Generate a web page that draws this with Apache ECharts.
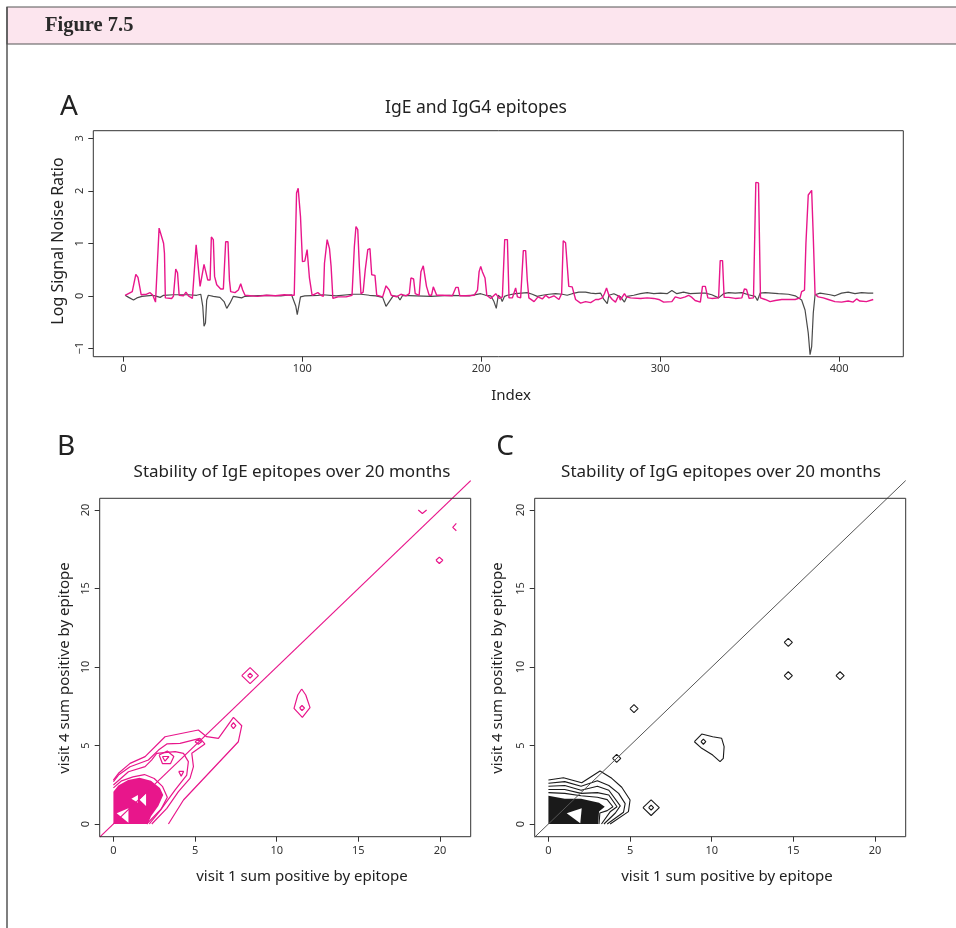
<!DOCTYPE html>
<html><head><meta charset="utf-8">
<script src="https://cdn.jsdelivr.net/npm/echarts@6/dist/echarts.min.js"></script>
<style>html,body{margin:0;padding:0;background:#fff}#c{width:956px;height:928px}</style>
</head><body><div id="c"></div>
<script>
// ---------- Panel A data: [index, log signal/noise] ----------
const igeSignal = [[1,0.01],[5,0.08],[7,0.41],[8.2,0.35],[9.1,0.34],[10,0.02],[13,0.03],[15,0.06],[16.5,0.01],[18,-0.12],[18.8,-0.11],[20,1.29],[21,1.29],[22.5,1.0],[23,0.81],[23.5,-0.04],[27,-0.05],[28,-0.01],[29.3,0.51],[30.3,0.44],[31.2,0.01],[33.6,0],[35,0.07],[36.4,0],[38.6,-0.05],[39.7,-0.04],[40.7,0.97],[41.8,0.97],[42.9,0.18],[43.8,0.18],[45.1,0.6],[46,0.6],[47.2,0.3],[48.5,0.3],[49.2,1.12],[50.3,1.07],[51,0.37],[52.2,0.21],[54.4,0.13],[55.9,0.13],[57.2,1.03],[58.5,1.03],[59.3,0.3],[60,0.08],[62.4,0.06],[64.3,0.11],[65.6,0.23],[66.7,0.11],[68,0.01],[75,-0.01],[80,0.01],[85,0],[90,0.02],[93,0.01],[95.5,0.01],[96.8,1.96],[97.7,2.05],[99,1.51],[100.1,0.65],[101.4,0.66],[102.7,0.88],[104,0.34],[105.5,0.01],[106.5,-0.01],[108.7,0.06],[110.5,0.01],[111.8,-0.01],[112.4,0.62],[113.9,1.07],[115.2,0.9],[116.1,0.56],[117.1,-0.05],[120,-0.02],[124.5,-0.02],[127.8,0.01],[129.1,0.94],[130,1.32],[131,1.26],[131.9,0.56],[132.8,0.04],[134,0.07],[135.2,0.5],[136.6,0.88],[137.8,0.9],[138.8,0.4],[140.6,0.39],[141.6,0.01],[144.9,-0.02],[146.8,0.19],[148.6,0.11],[149.7,0.01],[152.7,-0.02],[155.1,0.03],[157.9,0],[159.8,0.04],[160.7,0.34],[162.2,0.32],[163.1,0.04],[165.3,0.01],[166.3,0.46],[167.6,0.57],[168.7,0.57],[169.4,0.18],[170.9,0.01],[172.2,0.01],[173.2,0.17],[174.3,0.16],[175.1,0.01],[178.4,0.01],[183.9,0],[185.8,0.16],[187.1,0.16],[188,0],[191.4,0],[196,0.01],[197.9,0.11],[198.8,0.46],[199.7,0.56],[200.6,0.46],[202.1,0.34],[203.1,0.01],[205.3,-0.05],[208.1,0.04],[210,-0.05],[211.8,-0.02],[213.1,1.07],[214.6,1.07],[215.5,-0.04],[217.4,-0.04],[219.2,0.15],[220.2,-0.02],[222,-0.04],[223.5,0.86],[224.8,0.86],[225.7,0.3],[226.6,-0.04],[229.5,-0.11],[231.7,-0.02],[234.1,-0.06],[236,0.01],[237.8,-0.04],[240.6,0],[243.4,-0.07],[244.9,0.04],[245.8,1.05],[247.1,1.01],[248.9,0.18],[250.8,0.17],[252.7,-0.07],[255.5,-0.14],[258.3,-0.11],[261.1,-0.13],[263.9,-0.07],[265.7,-0.07],[267.6,-0.04],[268.8,0.04],[270,0.15],[271.3,0.01],[273.2,-0.07],[275,-0.12],[276.8,0.01],[277.7,-0.08],[280,0.04],[281.1,-0.02],[283.4,-0.04],[289,-0.05],[292.7,-0.04],[296.4,-0.05],[299.2,-0.07],[301.9,-0.12],[306.5,-0.11],[308.4,-0.02],[311.2,-0.05],[314,-0.02],[315.8,0.01],[317.7,-0.03],[319.5,-0.09],[320.5,-0.11],[322.4,-0.12],[323.6,0.18],[325.2,0.18],[326.6,-0.04],[328.8,-0.05],[332.6,-0.04],[333.5,0.67],[334.8,0.67],[335.7,-0.03],[338.2,-0.03],[341.9,-0.05],[345.6,-0.04],[347,0.13],[348.2,0.12],[349.7,-0.05],[352.1,-0.04],[353.4,2.16],[354.9,2.15],[356,-0.04],[358.6,-0.07],[361.4,-0.11],[364.2,-0.09],[367.9,-0.07],[371.6,-0.07],[375.4,-0.07],[378.1,-0.04],[379,0.08],[380.6,0.11],[381.4,1.0],[382.7,1.92],[384.6,2.01],[385.5,1.13],[386.5,0.03],[388.3,-0.02],[391.1,-0.04],[393.9,-0.07],[397.6,-0.11],[401.3,-0.12],[405,-0.1],[407.8,-0.12],[409.7,-0.06],[411.5,-0.1],[415.2,-0.11],[419,-0.07]];
const igg4Signal = [[1,0.01],[3,-0.03],[5.7,-0.08],[7.6,-0.04],[10.4,-0.01],[13.2,0],[16,0.01],[17.8,0],[20.6,-0.03],[22.5,0.01],[28,0.02],[36.4,0.02],[41,0.01],[43.3,0.03],[44.4,-0.2],[45.1,-0.58],[45.9,-0.52],[46.6,-0.08],[47.5,0.01],[50.3,-0.01],[54,-0.03],[56.3,-0.11],[57.8,-0.24],[59.6,-0.14],[61.5,-0.01],[66.1,-0.04],[68,-0.01],[72.6,0],[80,0.01],[88,0],[94,0.02],[95,0],[96.4,-0.2],[97.2,-0.36],[98.1,-0.33],[99,-0.02],[101.4,0],[102.2,-0.01],[108.7,0.01],[111.5,0.02],[118.9,0],[128.2,0.03],[132.8,0.03],[137.5,0.01],[141.2,0],[144.9,-0.03],[146.8,-0.2],[148.6,-0.11],[150.8,0],[153.3,-0.01],[154.6,-0.08],[156.1,0.01],[163.5,0],[171.9,-0.01],[182.1,0.01],[193.3,0],[199.7,0.04],[202.5,0.01],[205.3,0],[207.1,-0.11],[208.4,-0.24],[209.5,0.01],[210.8,-0.03],[211.7,-0.11],[213,-0.01],[214.6,0.01],[219.2,0.04],[225.7,0.06],[228.5,0.03],[231.3,-0.01],[234.1,0.01],[237.8,0.03],[241.5,0.04],[245.3,0.03],[248,0.01],[250.8,0.04],[254.5,0.07],[258.3,0.07],[261.1,0.05],[263.9,0.04],[266.7,0.05],[268.5,-0.07],[270.4,-0.15],[271.3,0.01],[274.1,0.04],[277.8,-0.02],[280,-0.12],[281.5,-0.01],[285.2,0.01],[288.9,0.04],[292.7,0.06],[296.4,0.04],[300.1,0.05],[303.8,0.04],[306.5,0.1],[309.3,0.04],[313,0.07],[316.7,0.04],[322.3,0.05],[325.2,0.05],[328.8,0.02],[332.6,-0.04],[335.4,0.04],[338.2,0.06],[341.9,0.05],[345.6,0.06],[349.3,0.02],[353,-0.01],[354.3,-0.09],[355.8,0.05],[358.6,0.06],[362.3,0.05],[366,0.04],[371.6,0.03],[375.4,0],[379,-0.08],[380.9,-0.27],[382.7,-0.71],[383.7,-1.12],[384.6,-0.97],[385.5,-0.33],[386.5,0.02],[389.3,0.05],[394.9,0.02],[397.6,0],[401.3,0.05],[405,0.07],[408.8,0.04],[412.5,0.06],[416.2,0.05],[419,0.05]];
const xTicksA = [0,100,200,300,400];
const yTicksA = [-1,0,1,2,3];
const ticksBC = [0,5,10,15,20];

// ---------- Panel B contour lines (visit 1, visit 4) for IgE ----------
const contoursIgE = [
  [[18.67,20.0],[18.92,19.78],[19.18,20.0]],
  [[21.0,19.15],[20.78,18.9],[21.0,18.68]],
  [[19.75,16.8],[19.96,17.0],[20.17,16.8],[19.96,16.6],[19.75,16.8]],
  [[7.86,9.45],[8.37,9.96],[8.88,9.45],[8.37,8.94],[7.86,9.45]],
  [[8.22,9.45],[8.37,9.6],[8.52,9.45],[8.37,9.3],[8.22,9.45]],
  [[11.53,8.6],[11.78,8.22],[12.04,7.41],[11.57,6.79],[11.06,7.37],[11.29,8.22],[11.53,8.6]],
  [[11.4,7.39],[11.55,7.55],[11.7,7.39],[11.55,7.23],[11.4,7.39]],
  [[7.2,6.26],[7.35,6.45],[7.5,6.26],[7.35,6.07],[7.2,6.26]],
  [[3.37,0],[4.29,1.53],[7.65,5.24],[7.86,6.26],[7.35,6.79],[6.43,5.46],[5.71,5.56],[5.2,5.99],[3.16,5.56],[1.94,4.29],[1.02,3.86],[0.31,3.23],[0,2.8]],
  [[2.35,0],[3.27,1.0],[3.98,2.06],[4.69,2.91],[4.9,3.65],[4.8,4.5],[5.6,5.1],[5.3,5.45],[4.08,5.14],[3.27,5.1],[2.76,4.71],[2.14,4.08],[1.02,3.65],[0.31,3.12],[0,2.7]],
  [[2.04,0],[2.96,1.0],[3.78,2.17],[4.49,3.12],[4.59,3.97],[4.29,4.5],[3.78,4.61],[2.65,4.5],[2.35,4.08],[1.94,3.65],[0.92,3.33],[0,2.48]],
  [[2.8,4.4],[3.3,4.65],[3.7,4.3],[3.5,3.85],[3.0,3.85],[2.8,4.4]],
  [[3.0,4.3],[3.4,4.3],[3.16,4.0],[3.0,4.3]],
  [[4.0,3.35],[4.3,3.35],[4.15,3.05],[4.0,3.35]],
  [[5.0,5.24],[5.2,5.4],[5.4,5.24],[5.2,5.08],[5.0,5.24]],
  [[0,2.3],[0.5,2.75],[1.2,3.0],[1.9,3.15],[2.5,2.9],[3.0,2.4],[3.3,1.7],[2.9,0.9],[2.2,0]]
];
const denseIgE = [[[0,0],[0,2.06],[0.3,2.45],[0.9,2.8],[1.6,2.95],[2.3,2.75],[2.85,2.3],[3.05,1.85],[2.75,1.15],[2.3,0.5],[2.1,0]]];
const holesIgE = [[[0.2,0.68],[0.92,1.0],[0.92,0.08]],[[1.1,1.6],[1.5,1.85],[1.5,1.35]],[[1.6,1.55],[2.0,1.95],[2.0,1.15]]];

// ---------- Panel C contour lines for IgG ----------
const contoursIgG = [
  [[14.44,11.57],[14.69,11.82],[14.94,11.57],[14.69,11.32],[14.44,11.57]],
  [[14.44,9.45],[14.69,9.7],[14.94,9.45],[14.69,9.2],[14.44,9.45]],
  [[17.61,9.45],[17.86,9.7],[18.11,9.45],[17.86,9.2],[17.61,9.45]],
  [[4.99,7.35],[5.24,7.6],[5.49,7.35],[5.24,7.1],[4.99,7.35]],
  [[3.93,4.18],[4.18,4.43],[4.43,4.18],[4.18,3.93],[3.93,4.18]],
  [[5.79,1.04],[6.29,1.54],[6.79,1.04],[6.29,0.54],[5.79,1.04]],
  [[6.14,1.04],[6.29,1.2],[6.44,1.04],[6.29,0.88],[6.14,1.04]],
  [[8.94,5.24],[9.39,5.73],[10.06,5.56],[10.61,5.46],[10.76,4.93],[10.71,4.18],[10.51,3.97],[10.06,4.39],[9.39,4.82],[8.94,5.24]],
  [[9.34,5.24],[9.49,5.4],[9.64,5.24],[9.49,5.08],[9.34,5.24]],
  [[0,2.8],[0.92,2.95],[2.04,2.63],[3.16,3.38],[3.88,2.91],[4.49,2.34],[5.0,1.53],[4.9,0.79],[3.78,0]],
  [[0,2.6],[1.0,2.7],[2.0,2.4],[3.0,2.75],[3.7,2.45],[4.3,1.95],[4.7,1.3],[4.6,0.75],[3.6,0]],
  [[0,2.4],[1.0,2.45],[2.0,2.15],[3.0,2.4],[3.7,2.15],[4.4,1.15],[4.1,0.7],[3.4,0]],
  [[0,2.2],[1.0,2.2],[2.0,1.95],[3.0,2.0],[3.7,1.85],[4.2,1.1],[3.8,0.8],[3.25,0]],
  [[0,2.0],[1.0,1.95],[2.0,1.8],[3.0,1.7],[3.6,1.55],[3.95,1.1],[3.6,0.85],[3.15,0.7],[3.1,0]]
];
const denseIgG = [[[0,0],[0,1.8],[1.0,1.6],[2.0,1.6],[3.1,1.35],[3.45,1.1],[3.1,0.8],[3.05,0]]];
const holesIgG = [[[1.12,0.68],[2.04,1.0],[1.95,0.05]]];

const MAG = '#e8168b', GRY = '#4a4a4a', BLK = '#1a1a1a';
const FONT = 'Noto Sans';
const chart = echarts.init(document.getElementById('c'), null, {renderer:'canvas'});

const grids = [
  {left:93.3, top:130.7, width:810, height:226},
  {left:99.7, top:498.3, width:371, height:338.4},
  {left:534.7, top:498.3, width:371, height:338.4}
];
function xAx(gi, min, max, ticks, margin){
  return {type:'value', gridIndex:gi, min, max, splitLine:{show:false}, axisLine:{show:false, onZero:false},
    axisTick:{show:true, inside:false, length:5, customValues:ticks, lineStyle:{color:'#333'}},
    axisLabel:{customValues:ticks, margin, fontFamily:FONT, fontSize:11, color:'#333',
      formatter:v=>String(v).replace('-','\u2212')}};
}
function yAx(gi, min, max, ticks, margin){
  const a = xAx(gi, min, max, ticks, margin);
  a.axisLabel.rotate = 90;
  return a;
}
const series = [];
series.push({type:'line', xAxisIndex:0, yAxisIndex:0, data:igg4Signal, showSymbol:false, lineStyle:{color:GRY, width:1.2}, animation:false});
series.push({type:'line', xAxisIndex:0, yAxisIndex:0, data:igeSignal, showSymbol:false, lineStyle:{color:MAG, width:1.4}, animation:false});
function polySeries(ai, polys, color){
  return {type:'custom', xAxisIndex:ai, yAxisIndex:ai, animation:false, clip:false,
    data: polys.map(p=>p[0]),
    renderItem:(params, api)=>({type:'polygon', shape:{points: polys[params.dataIndex].map(p=>api.coord(p))}, style:{fill:color}})};
}
function addContours(ai, list, dense, holes, color, lw){
  series.push(polySeries(ai, dense, color));
  series.push(polySeries(ai, holes, '#fff'));
  list.forEach(c=>series.push({type:'line', xAxisIndex:ai, yAxisIndex:ai, data:c, showSymbol:false, animation:false,
    lineStyle:{color, width:lw}}));
}
addContours(1, contoursIgE, denseIgE, holesIgE, MAG, 1.2);
addContours(2, contoursIgG, denseIgG, holesIgG, BLK, 1.1);
series.push({type:'line', xAxisIndex:1, yAxisIndex:1, clip:false, data:[[-0.84,-0.84],[21.88,21.88]], showSymbol:false, animation:false, lineStyle:{color:MAG, width:1.2}});
series.push({type:'line', xAxisIndex:2, yAxisIndex:2, clip:false, data:[[-0.84,-0.84],[21.88,21.88]], showSymbol:false, animation:false, lineStyle:{color:'#555', width:1}});

function txt(x, y, text, size, opts){
  return {type:'text', x, y, style:Object.assign({text, fontFamily:FONT, fontSize:size, fill:'#222', align:'center', verticalAlign:'middle'}, opts||{})};
}
function vtxt(x, y, text, size){
  return {type:'text', x, y, rotation:Math.PI/2, style:{text, fontFamily:FONT, fontSize:size, fill:'#222', align:'center', verticalAlign:'middle'}};
}
const boxes = grids.map(g=>({type:'rect', shape:{x:g.left, y:g.top, width:g.width, height:g.height}, style:{fill:null, stroke:'#333', lineWidth:1}, z:10}));

chart.setOption({
  animation:false,
  backgroundColor:'#fff',
  grid: grids.map(g=>Object.assign({containLabel:false}, g)),
  xAxis:[xAx(0,-16.76,435.8,xTicksA,7), xAx(1,-0.84,21.88,ticksBC,9), xAx(2,-0.84,21.88,ticksBC,9)],
  yAxis:[yAx(0,-1.16,3.145,yTicksA,8), yAx(1,-0.81,20.75,ticksBC,8), yAx(2,-0.81,20.75,ticksBC,8)],
  series,
  graphic:[
    {type:'rect', shape:{x:7, y:7, width:960, height:37}, style:{fill:'#fce5ee', stroke:'#555', lineWidth:1.2}},
    {type:'line', shape:{x1:7, y1:7, x2:7, y2:928}, style:{stroke:'#555', lineWidth:1.5}},
    {type:'text', x:45, y:26, style:{text:'Figure 7.5', fontFamily:'Liberation Serif', fontWeight:'bold', fontSize:20.5, fill:'#2a2a2a', align:'left', verticalAlign:'middle'}},
    ...boxes,
    txt(69, 107, 'A', 28),
    txt(66, 447, 'B', 28),
    txt(505, 447, 'C', 28),
    txt(476, 108, 'IgE and IgG4 epitopes', 17.5),
    txt(292, 472, 'Stability of IgE epitopes over 20 months', 17),
    txt(721, 472, 'Stability of IgG epitopes over 20 months', 17),
    txt(511, 396, 'Index', 15),
    vtxt(58, 241, 'Log Signal Noise Ratio', 16),
    txt(302, 877, 'visit 1 sum positive by epitope', 15),
    txt(727, 877, 'visit 1 sum positive by epitope', 15),
    vtxt(65, 668, 'visit 4 sum positive by epitope', 15),
    vtxt(498, 668, 'visit 4 sum positive by epitope', 15)
  ]
});
</script></body></html>
